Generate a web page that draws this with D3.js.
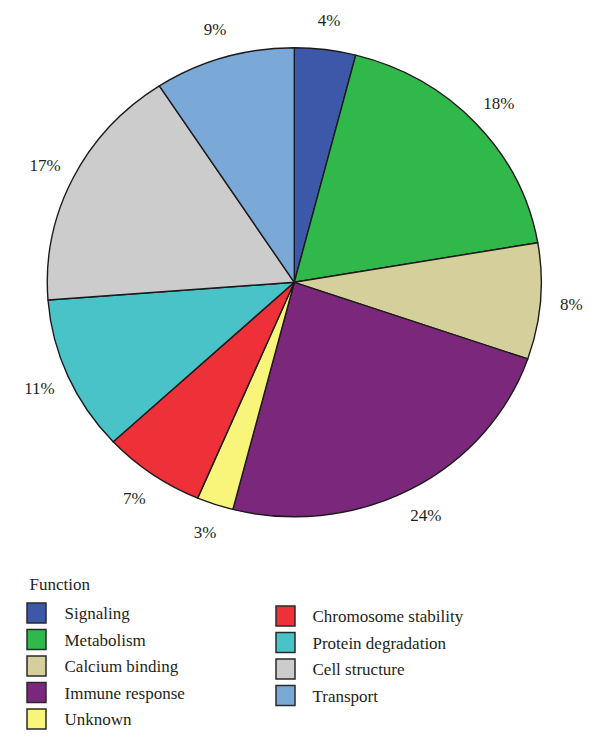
<!DOCTYPE html>
<html>
<head>
<meta charset="utf-8">
<script src="https://cdn.jsdelivr.net/npm/d3@7"></script>
<style>
  html, body { margin: 0; padding: 0; background: #fff; }
  svg { display: block; }
</style>
</head>
<body>
<svg id="chart" width="600" height="752"></svg>
<script>
// ---- data ----
const categories = ["Signaling", "Metabolism", "Calcium binding", "Immune response", "Unknown",
                    "Chromosome stability", "Protein degradation", "Cell structure", "Transport"];
const shares = [4.0, 18.3, 8.0, 23.7, 2.4, 6.7, 10.7, 17.0, 9.2];   // slice sizes
const labels = ["4%", "18%", "8%", "24%", "3%", "7%", "11%", "17%", "9%"];
const colors = ["#3d57a9", "#31b84b", "#d4cf9b", "#7b287c", "#f8f57a",
                "#ee3039", "#4ac3c8", "#cccccc", "#7aa9d7"];
const legendTitle = "Function";

// ---- layout ----
const FONT = "'Liberation Serif', 'DejaVu Serif', 'Times New Roman', serif";
const svg = d3.select("#chart");
const cx = 294.3, cy = 282.3, rx = 247, ry = 234.5;
const sx = rx / ry;

const pie = d3.pie().sort(null).value(d => d.v);
const data = categories.map((c, i) => ({ c, v: shares[i], label: labels[i], color: colors[i] }));
const arcs = pie(data);

const arc = d3.arc().innerRadius(0).outerRadius(ry);
const g = svg.append("g").attr("transform", `translate(${cx},${cy}) scale(${sx},1)`);
g.selectAll("path").data(arcs).join("path")
  .attr("d", arc)
  .attr("fill", d => d.data.color)
  .attr("stroke", "#1c1a1c")
  .attr("stroke-width", 1.4)
  .attr("stroke-linejoin", "round")
  .attr("vector-effect", "non-scaling-stroke");

const labelArc = d3.arc().innerRadius(264).outerRadius(264);
svg.append("g").attr("transform", `translate(${cx},${cy})`)
  .selectAll("text").data(arcs).join("text")
  .attr("x", d => labelArc.centroid(d)[0] * sx)
  .attr("y", d => labelArc.centroid(d)[1])
  .attr("text-anchor", "middle")
  .attr("dy", "0.35em")
  .attr("font-family", FONT)
  .attr("font-size", 17)
  .attr("fill", "#231f20")
  .text(d => d.data.label);

// ---- legend ----
const legend = svg.append("g");
legend.append("text").attr("x", 29.5).attr("y", 590)
  .attr("font-family", FONT).attr("font-size", 17).attr("fill", "#231f20")
  .text(legendTitle);

const rowH = 26.5;
const items = legend.selectAll("g.item").data(data).join("g")
  .attr("class", "item")
  .attr("transform", (d, i) => {
    const col = i < 5 ? 0 : 1;
    const row = i < 5 ? i : i - 5;
    const x = col === 0 ? 27 : 276;
    const y = (col === 0 ? 603 : 606) + row * rowH;
    return `translate(${x},${y})`;
  });
items.append("rect")
  .attr("width", 19).attr("height", 20)
  .attr("fill", d => d.color)
  .attr("stroke", "#2a2a2a").attr("stroke-width", 1.5);
items.append("text")
  .attr("x", (d, i) => i < 5 ? 37.5 : 36.5)
  .attr("y", 16)
  .attr("font-family", FONT)
  .attr("font-size", 17)
  .attr("fill", "#231f20")
  .text(d => d.c);
</script>
</body>
</html>
